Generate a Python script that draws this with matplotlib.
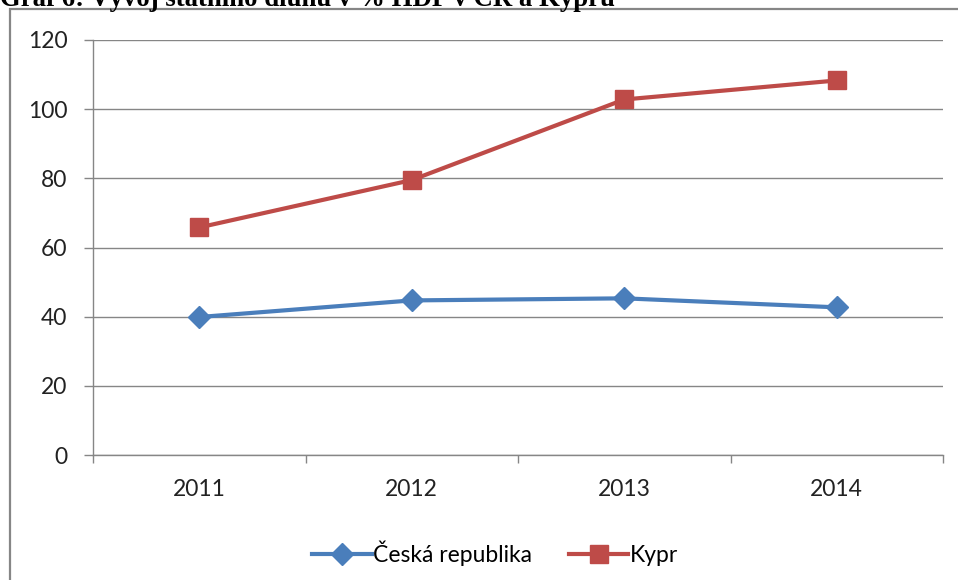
import matplotlib
matplotlib.use('Agg')
import matplotlib.pyplot as plt
from matplotlib.patches import Rectangle

# data
years = ['2011', '2012', '2013', '2014']
cr_values = [39.9, 44.7, 45.3, 42.7]
kypr_values = [65.8, 79.5, 102.8, 108.3]
y_ticks = [0, 20, 40, 60, 80, 100, 120]

W, H = 958, 580
fig = plt.figure(figsize=(W / 100, H / 100), dpi=100)
plt.rcParams['font.family'] = ['Lato', 'DejaVu Sans']

# axes placed in pixel coords of the reference
left, right, top, bottom = 93, 943, 40, 455
ax = fig.add_axes([left / W, (H - bottom) / H, (right - left) / W, (bottom - top) / H])

grid_col = '#868686'
x = list(range(len(years)))
ax.plot(x, cr_values, color='#4A7EBB', lw=3, marker='D', ms=11,
        label='Česká republika', zorder=3)
ax.plot(x, kypr_values, color='#BE4B48', lw=3, marker='s', ms=13,
        label='Kypr', zorder=3)

ax.set_xlim(-0.5, len(years) - 0.5)
ax.set_ylim(0, 120)
ax.set_yticks(y_ticks)
ax.set_yticklabels([str(v) for v in y_ticks])
ax.set_xticks([i - 0.5 for i in range(len(years) + 1)])
ax.set_xticklabels([])
ax.set_xticks(x, minor=True)
ax.set_xticklabels(years, minor=True)
ax.tick_params(axis='x', which='major', length=6, width=1, color=grid_col, direction='out')
ax.tick_params(axis='x', which='minor', length=0, pad=17, labelsize=16.5, labelcolor='#222222')
ax.tick_params(axis='y', length=6.5, width=1, color=grid_col, direction='out', pad=12,
               labelsize=16.5, labelcolor='#222222')

ax.grid(axis='y', color=grid_col, lw=1)
ax.set_axisbelow(True)
for s in ['top', 'right']:
    ax.spines[s].set_visible(False)
for s in ['left', 'bottom']:
    ax.spines[s].set_color(grid_col)
    ax.spines[s].set_linewidth(1)

leg = fig.legend(loc='center', bbox_to_anchor=(495 / W, (H - 553) / H), ncol=2,
                 frameon=False, fontsize=16.5, handlelength=2.6, handletextpad=0.05,
                 columnspacing=1.6, borderaxespad=0)

# chart border (runs off the right and bottom edge)
fig.patches.append(Rectangle((10 / W, -0.1), 1.2, (H - 9) / H + 0.1,
                             transform=fig.transFigure, fill=False,
                             edgecolor=grid_col, lw=1.6))

# caption above the chart, cut off by the top edge as in the source
fig.text(0, (H - 6) / H, 'Graf 6: Vývoj státního dluhu v % HDP v ČR a Kypru',
         family='Liberation Serif', weight='bold', fontsize=19.3, va='baseline', ha='left')

fig.savefig('out.png', dpi=100)
